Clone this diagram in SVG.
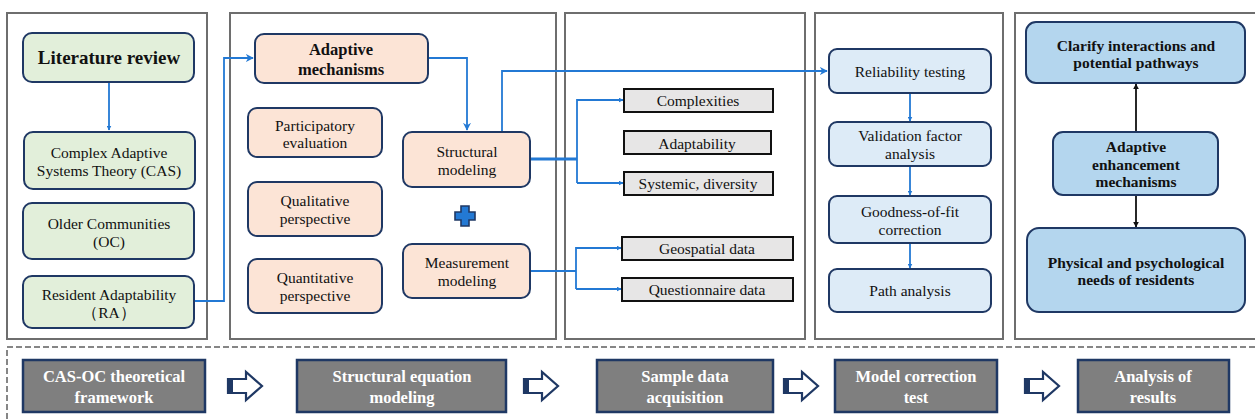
<svg xmlns="http://www.w3.org/2000/svg" width="1255" height="419" viewBox="0 0 1255 419">
  <style>
    text { font-family: "Liberation Serif", "DejaVu Serif", serif; text-anchor: middle; dominant-baseline: central; fill: #111; }
    .panel { fill: #fff; stroke: #6e6e6e; stroke-width: 2; }
    .node { stroke: #1f3864; stroke-width: 2; }
    .green { fill: #e2efda; }
    .peach { fill: #fce4d6; }
    .lblue { fill: #ddebf7; }
    .mblue { fill: #b4d6ee; }
    .gray { fill: #e7e6e6; stroke: #111; stroke-width: 2; }
    .step { fill: #7f7f7f; stroke: #1f3864; stroke-width: 2.5; }
    .t { font-size: 15.5px; }
    .b { font-weight: bold; }
    .w { fill: #fff; font-weight: bold; font-size: 16.5px; }
    .link { fill: none; stroke: #2379d4; stroke-width: 1.8; }
    .link-thick { fill: none; stroke: #2379d4; stroke-width: 3; }
    .link-black { fill: none; stroke: #111; stroke-width: 1.8; }
    .barrow { fill: #fff; stroke: #1f3864; stroke-width: 2.2; stroke-linejoin: miter; }
  </style>
  <defs>
    <marker id="ah" viewBox="0 0 10 10" refX="9" refY="5" markerWidth="5" markerHeight="5" markerUnits="userSpaceOnUse" orient="auto">
      <path d="M0,0 L10,5 L0,10 z" fill="#2379d4"/>
    </marker>
    <marker id="ahl" viewBox="0 0 10 10" refX="9" refY="5" markerWidth="8" markerHeight="8" markerUnits="userSpaceOnUse" orient="auto">
      <path d="M0,0 L10,5 L0,10 L3,5 z" fill="#2379d4"/>
    </marker>
    <marker id="ahk" viewBox="0 0 10 10" refX="9" refY="5" markerWidth="6" markerHeight="6" markerUnits="userSpaceOnUse" orient="auto">
      <path d="M0,0 L10,5 L0,10 z" fill="#111"/>
    </marker>
    <!-- outlined block arrow between stages -->
    <path id="barrow" d="M0,-7 L18,-7 L18,-14 L34,0 L18,14 L18,7 L0,7 z"/>
  </defs>

  <!-- stage panels -->
  <g id="panels">
    <rect class="panel" x="7" y="13" width="200" height="326"/>
    <rect class="panel" x="230" y="13" width="326" height="326"/>
    <rect class="panel" x="565" y="13" width="240" height="326"/>
    <rect class="panel" x="815" y="13" width="188" height="326"/>
    <rect class="panel" x="1015" y="13" width="250" height="326"/>
    <rect x="7" y="347" width="1260" height="90" fill="none" stroke="#5f5f5f" stroke-width="1.5" stroke-dasharray="6,3"/>
  </g>

  <!-- connectors -->
  <g id="connectors">
    <path class="link" d="M109,82 V130" marker-end="url(#ah)"/>
    <path class="link" d="M195,301 H224 V58 H253" marker-end="url(#ahl)"/>
    <path class="link" d="M428,58 H467 V130" marker-end="url(#ahl)"/>
    <path class="link" d="M502,132 V71 H827" marker-end="url(#ahl)"/>
    <path class="link-thick" d="M530,159 H577"/>
    <path class="link" d="M577,183 V100 H623" marker-end="url(#ah)"/>
    <path class="link" d="M577,183 H623" marker-end="url(#ah)"/>
    <path class="link" d="M530,271 H576"/>
    <path class="link" d="M576,289 V248 H621" marker-end="url(#ah)"/>
    <path class="link" d="M576,289 H621" marker-end="url(#ah)"/>
    <path class="link" d="M910,93 V121" marker-end="url(#ah)"/>
    <path class="link" d="M910,166 V195" marker-end="url(#ah)"/>
    <path class="link" d="M910,243 V268" marker-end="url(#ah)"/>
    <path class="link-black" d="M1136,132 V84" marker-end="url(#ahk)"/>
    <path class="link-black" d="M1136,195 V227" marker-end="url(#ahk)"/>
  </g>

  <!-- CAS-OC theoretical framework panel -->
  <g id="literature-review">
    <rect class="node green" x="23" y="33" width="171" height="49" rx="9"/>
    <text class="b" x="109" y="57" font-size="19">Literature review</text>
  </g>
  <g id="cas">
    <rect class="node green" x="24" y="132" width="171" height="57" rx="9"/>
    <text class="t" x="109" y="152">Complex Adaptive</text>
    <text class="t" x="109" y="170">Systems Theory (CAS)</text>
  </g>
  <g id="oc">
    <rect class="node green" x="23" y="203" width="171" height="56" rx="9"/>
    <text class="t" x="109" y="223">Older Communities</text>
    <text class="t" x="109" y="241">(OC)</text>
  </g>
  <g id="ra">
    <rect class="node green" x="23" y="276" width="171" height="52" rx="9"/>
    <text class="t" x="109" y="294">Resident Adaptability</text>
    <text class="t" x="109" y="312">（RA）</text>
  </g>

  <!-- structural equation modeling panel -->
  <g id="adaptive-mechanisms">
    <rect class="node peach" x="255" y="34" width="173" height="49" rx="9"/>
    <text class="b" x="341" y="49" font-size="16.5">Adaptive</text>
    <text class="b" x="341" y="69" font-size="16.5">mechanisms</text>
  </g>
  <g id="participatory">
    <rect class="node peach" x="248" y="108" width="134" height="49" rx="9"/>
    <text class="t" x="315" y="125">Participatory</text>
    <text class="t" x="315" y="142">evaluation</text>
  </g>
  <g id="qualitative">
    <rect class="node peach" x="248" y="182" width="134" height="54" rx="9"/>
    <text class="t" x="315" y="200">Qualitative</text>
    <text class="t" x="315" y="218">perspective</text>
  </g>
  <g id="quantitative">
    <rect class="node peach" x="248" y="259" width="134" height="54" rx="9"/>
    <text class="t" x="315" y="277">Quantitative</text>
    <text class="t" x="315" y="295">perspective</text>
  </g>
  <g id="structural-modeling">
    <rect class="node peach" x="403" y="132" width="127" height="55" rx="9"/>
    <text class="t" x="467" y="151">Structural</text>
    <text class="t" x="467" y="169">modeling</text>
  </g>
  <g id="plus">
    <path d="M461,206 H469 V212 H475 V220 H469 V226 H461 V220 H455 V212 H461 z" fill="#2379d4" stroke="#1f3864" stroke-width="1.6"/>
  </g>
  <g id="measurement-modeling">
    <rect class="node peach" x="403" y="244" width="127" height="54" rx="9"/>
    <text class="t" x="467" y="262">Measurement</text>
    <text class="t" x="467" y="280">modeling</text>
  </g>

  <!-- sample data acquisition panel -->
  <g id="complexities">
    <rect class="gray" x="624" y="89" width="149" height="23"/>
    <text class="t" x="698" y="100.5">Complexities</text>
  </g>
  <g id="adaptability">
    <rect class="gray" x="624" y="131" width="147" height="23"/>
    <text class="t" x="697" y="143">Adaptability</text>
  </g>
  <g id="systemic">
    <rect class="gray" x="624" y="172" width="149" height="23"/>
    <text class="t" x="698" y="183.5">Systemic, diversity</text>
  </g>
  <g id="geospatial">
    <rect class="gray" x="622" y="237" width="171" height="23"/>
    <text class="t" x="707" y="248.5">Geospatial data</text>
  </g>
  <g id="questionnaire">
    <rect class="gray" x="622" y="278" width="171" height="23"/>
    <text class="t" x="707" y="289.5">Questionnaire data</text>
  </g>

  <!-- model correction test panel -->
  <g id="reliability">
    <rect class="node lblue" x="829" y="49" width="162" height="44" rx="8"/>
    <text class="t" x="910" y="71">Reliability testing</text>
  </g>
  <g id="validation">
    <rect class="node lblue" x="829" y="122" width="162" height="44" rx="8"/>
    <text class="t" x="910" y="135">Validation factor</text>
    <text class="t" x="910" y="153">analysis</text>
  </g>
  <g id="goodness">
    <rect class="node lblue" x="829" y="196" width="162" height="47" rx="8"/>
    <text class="t" x="910" y="211">Goodness-of-fit</text>
    <text class="t" x="910" y="229">correction</text>
  </g>
  <g id="path-analysis">
    <rect class="node lblue" x="829" y="269" width="162" height="43" rx="8"/>
    <text class="t" x="910" y="290">Path analysis</text>
  </g>

  <!-- analysis of results panel -->
  <g id="clarify">
    <rect class="node mblue" x="1026" y="22" width="219" height="61" rx="10"/>
    <text class="b" x="1136" y="45" font-size="15.5">Clarify interactions and</text>
    <text class="b" x="1136" y="62" font-size="15.5">potential pathways</text>
  </g>
  <g id="enhancement">
    <rect class="node mblue" x="1053" y="132" width="165" height="63" rx="10"/>
    <text class="b" x="1136" y="146" font-size="15.5">Adaptive</text>
    <text class="b" x="1136" y="164" font-size="15.5">enhancement</text>
    <text class="b" x="1136" y="181" font-size="15.5">mechanisms</text>
  </g>
  <g id="needs">
    <rect class="node mblue" x="1027" y="228" width="218" height="84" rx="12"/>
    <text class="b" x="1136" y="262" font-size="15.5">Physical and psychological</text>
    <text class="b" x="1136" y="279" font-size="15.5">needs of residents</text>
  </g>

  <!-- stage sequence -->
  <g id="step-framework">
    <rect class="step" x="23" y="360" width="182" height="52"/>
    <text class="w" x="114" y="376">CAS-OC theoretical</text>
    <text class="w" x="114" y="397">framework</text>
  </g>
  <g id="step-sem">
    <rect class="step" x="297" y="360" width="209" height="52"/>
    <text class="w" x="402" y="376">Structural equation</text>
    <text class="w" x="402" y="397">modeling</text>
  </g>
  <g id="step-sample">
    <rect class="step" x="597" y="360" width="176" height="52"/>
    <text class="w" x="685" y="376">Sample data</text>
    <text class="w" x="685" y="397">acquisition</text>
  </g>
  <g id="step-model">
    <rect class="step" x="835" y="360" width="162" height="52"/>
    <text class="w" x="916" y="376">Model correction</text>
    <text class="w" x="916" y="397">test</text>
  </g>
  <g id="step-results">
    <rect class="step" x="1078" y="360" width="151" height="52"/>
    <text class="w" x="1153" y="376">Analysis of</text>
    <text class="w" x="1153" y="397">results</text>
  </g>

  <g id="step-arrows">
    <g transform="translate(228,386)"><use href="#barrow" class="barrow"/><rect x="0" y="-7" width="5" height="14" fill="#1f3864"/></g>
    <g transform="translate(524,386)"><use href="#barrow" class="barrow"/><rect x="0" y="-7" width="5" height="14" fill="#1f3864"/></g>
    <g transform="translate(784,386)"><use href="#barrow" class="barrow"/><rect x="0" y="-7" width="5" height="14" fill="#1f3864"/></g>
    <g transform="translate(1025,386)"><use href="#barrow" class="barrow"/><rect x="0" y="-7" width="5" height="14" fill="#1f3864"/></g>
  </g>
</svg>
